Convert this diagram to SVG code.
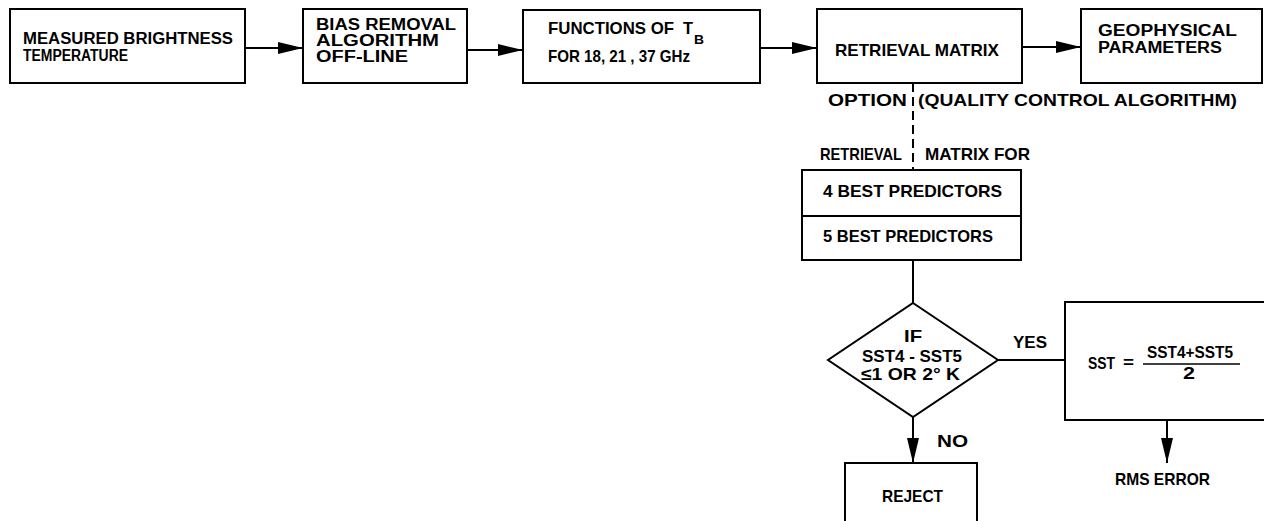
<svg xmlns="http://www.w3.org/2000/svg" width="1264" height="521" viewBox="0 0 1264 521">
<defs>
<style>
.box{fill:#fff;stroke:#000;stroke-width:2}
.ln{fill:none;stroke:#000;stroke-width:2}
.dash{fill:none;stroke:#000;stroke-width:2;stroke-dasharray:9 5}
text{font-family:"Liberation Sans",Arial,sans-serif;font-weight:bold;font-size:17px;fill:#000}
.sm{font-size:16px}
.sub{font-size:13px}
</style>
<marker id="arr" markerUnits="userSpaceOnUse" markerWidth="26" markerHeight="14" refX="25" refY="6" orient="auto">
<path d="M0,0 L25,6 L0,12 z" fill="#000"/>
</marker>
</defs>
<rect width="1264" height="521" fill="#fff"/>

<g id="connectors">
<line class="ln" x1="245" y1="48" x2="303" y2="48" marker-end="url(#arr)"/>
<line class="ln" x1="467" y1="50" x2="523" y2="50" marker-end="url(#arr)"/>
<line class="ln" x1="760" y1="48" x2="817" y2="48" marker-end="url(#arr)"/>
<line class="ln" x1="1022" y1="47" x2="1081" y2="47" marker-end="url(#arr)"/>
<line class="dash" x1="913" y1="83" x2="913" y2="170"/>
<line class="ln" x1="913" y1="260" x2="913" y2="303"/>
<line class="ln" x1="998" y1="360" x2="1065" y2="360"/>
<line class="ln" x1="913" y1="417" x2="913" y2="463" marker-end="url(#arr)"/>
<line class="ln" x1="1167" y1="420" x2="1167" y2="463" marker-end="url(#arr)"/>
<text x="828" y="106" textLength="79" lengthAdjust="spacingAndGlyphs">OPTION</text>
<text x="918" y="106" textLength="319" lengthAdjust="spacingAndGlyphs">(QUALITY CONTROL ALGORITHM)</text>
<text x="820" y="160" textLength="82" lengthAdjust="spacingAndGlyphs">RETRIEVAL</text>
<text x="925" y="160" textLength="105" lengthAdjust="spacingAndGlyphs">MATRIX FOR</text>
<text x="1013" y="348" textLength="34" lengthAdjust="spacingAndGlyphs">YES</text>
<text x="937" y="447" textLength="31" lengthAdjust="spacingAndGlyphs">NO</text>
</g>

<g id="measured">
<rect class="box" x="10" y="9" width="235" height="74"/>
<text class="sm" x="23" y="44" textLength="210" lengthAdjust="spacingAndGlyphs">MEASURED BRIGHTNESS</text>
<text class="sm" x="23" y="61" textLength="105" lengthAdjust="spacingAndGlyphs">TEMPERATURE</text>
</g>

<g id="bias">
<rect class="box" x="303" y="9" width="164" height="74"/>
<text class="sm" x="316" y="30" textLength="140" lengthAdjust="spacingAndGlyphs">BIAS REMOVAL</text>
<text class="sm" x="316" y="46" textLength="123" lengthAdjust="spacingAndGlyphs">ALGORITHM</text>
<text class="sm" x="316" y="62" textLength="92" lengthAdjust="spacingAndGlyphs">OFF-LINE</text>
</g>

<g id="functions">
<rect class="box" x="523" y="10" width="237" height="73"/>
<text x="548" y="34" textLength="126" lengthAdjust="spacingAndGlyphs">FUNCTIONS OF</text>
<text x="683" y="34" textLength="10" lengthAdjust="spacingAndGlyphs">T</text>
<text class="sub" x="694" y="44" textLength="10" lengthAdjust="spacingAndGlyphs">B</text>
<text x="548" y="62" textLength="142" lengthAdjust="spacingAndGlyphs">FOR 18, 21 , 37 GHz</text>
</g>

<g id="retrieval">
<rect class="box" x="817" y="9" width="205" height="74"/>
<text x="835" y="56" textLength="164" lengthAdjust="spacingAndGlyphs">RETRIEVAL MATRIX</text>
</g>

<g id="geophysical">
<rect class="box" x="1081" y="9" width="181" height="74"/>
<text class="sm" x="1098" y="36" textLength="139" lengthAdjust="spacingAndGlyphs">GEOPHYSICAL</text>
<text class="sm" x="1098" y="53" textLength="124" lengthAdjust="spacingAndGlyphs">PARAMETERS</text>
</g>

<g id="predictors">
<rect class="box" x="802" y="170" width="219" height="90"/>
<line class="ln" x1="802" y1="216" x2="1021" y2="216"/>
<text x="823" y="197" textLength="179" lengthAdjust="spacingAndGlyphs">4 BEST PREDICTORS</text>
<text x="823" y="242" textLength="170" lengthAdjust="spacingAndGlyphs">5 BEST PREDICTORS</text>
</g>

<g id="decision">
<polygon class="box" points="913,303 998,360 913,417 828,360"/>
<text x="904" y="342" textLength="18" lengthAdjust="spacingAndGlyphs">IF</text>
<text x="862" y="362" textLength="100" lengthAdjust="spacingAndGlyphs">SST4 - SST5</text>
<text x="861" y="380" textLength="99" lengthAdjust="spacingAndGlyphs">≤1 OR 2° K</text>
</g>

<g id="sst">
<rect class="box" x="1065" y="302" width="210" height="118"/>
<text x="1088" y="369" textLength="27" lengthAdjust="spacingAndGlyphs">SST</text>
<text x="1123" y="368" textLength="11" lengthAdjust="spacingAndGlyphs">=</text>
<text x="1147" y="358" textLength="86" lengthAdjust="spacingAndGlyphs">SST4+SST5</text>
<line x1="1143" y1="364" x2="1240" y2="364" stroke="#000" stroke-width="1.5"/>
<text x="1183" y="379" textLength="12" lengthAdjust="spacingAndGlyphs">2</text>
</g>

<g id="rms">
<text x="1115" y="485" textLength="95" lengthAdjust="spacingAndGlyphs">RMS ERROR</text>
</g>

<g id="reject">
<rect class="box" x="845" y="463" width="132" height="70"/>
<text x="882" y="502" textLength="61" lengthAdjust="spacingAndGlyphs">REJECT</text>
</g>
</svg>
